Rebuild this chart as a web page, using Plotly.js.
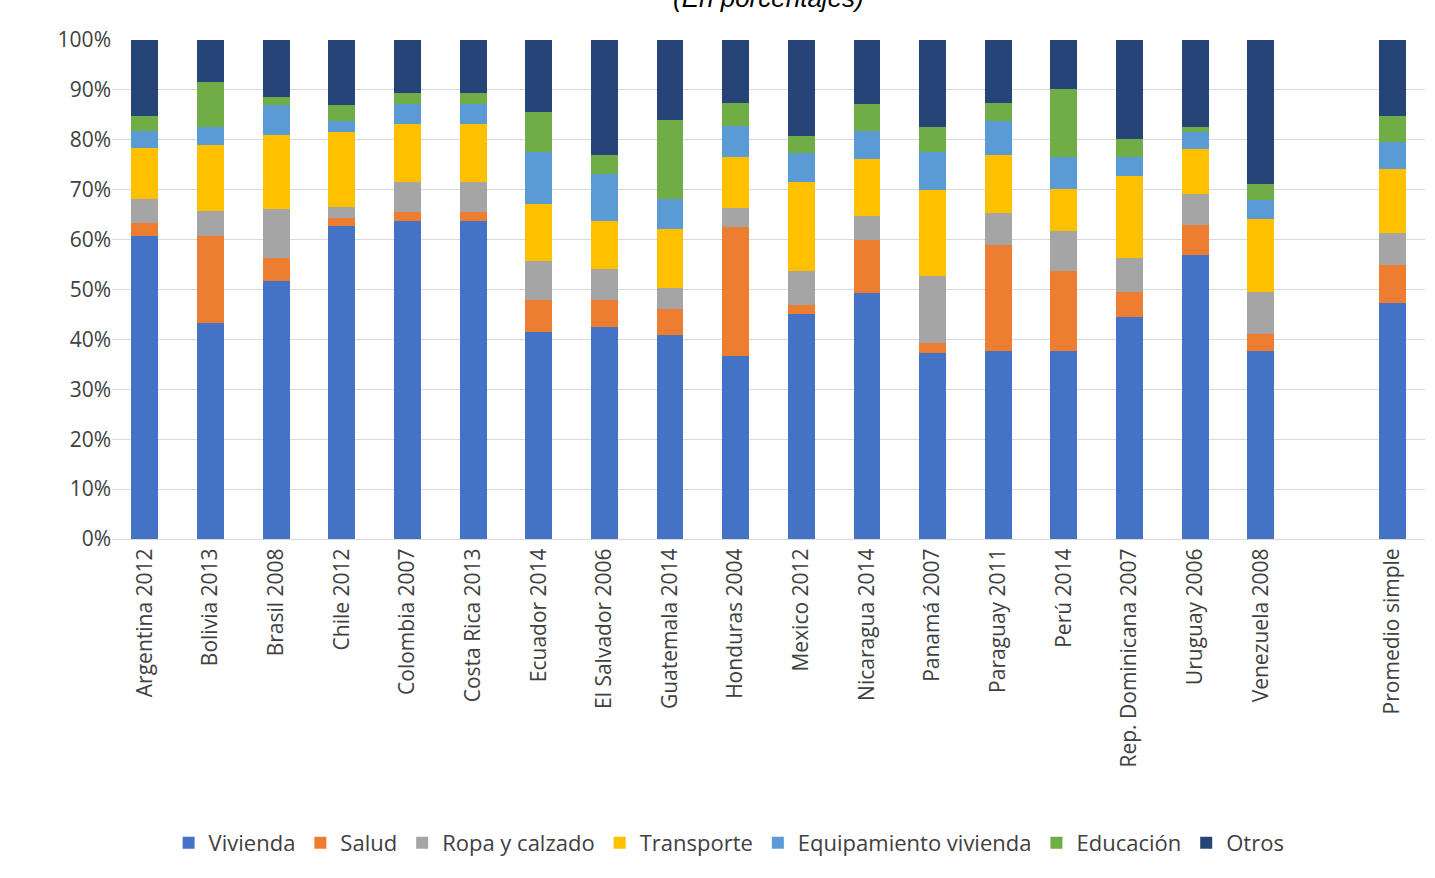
<!DOCTYPE html>
<html><head><meta charset="utf-8">
<script src="https://cdn.plot.ly/plotly-3.0.1.min.js"></script>
<style>body{margin:0;background:#fff}</style></head>
<body><div id="c" style="width:1435px;height:878px"></div>
<script>
const categories=["Argentina 2012","Bolivia 2013","Brasil 2008","Chile 2012","Colombia 2007","Costa Rica 2013","Ecuador 2014","El Salvador 2006","Guatemala 2014","Honduras 2004","Mexico 2012","Nicaragua 2014","Panamá 2007","Paraguay 2011","Perú 2014","Rep. Dominicana 2007","Uruguay 2006","Venezuela 2008"," ","Promedio simple"];
const vivienda=[60.7,43.3,51.7,62.7,63.7,63.7,41.5,42.5,40.9,36.7,45.1,49.3,37.3,37.7,37.7,44.5,56.9,37.7,null,47.3];
const salud=[2.6,17.4,4.6,1.6,1.8,1.8,6.4,5.4,5.2,25.8,1.8,10.6,2.0,21.2,16.0,5.0,6.0,3.4,null,7.6];
const ropa=[4.8,5.0,9.8,2.2,6.0,6.0,7.8,6.2,4.2,3.8,6.8,4.8,13.4,6.4,8.0,6.8,6.2,8.4,null,6.4];
const transporte=[10.3,13.3,14.9,15.1,11.7,11.7,11.4,9.6,11.8,10.3,17.8,11.5,17.2,11.7,8.4,16.4,9.1,14.6,null,12.8];
const equipamiento=[3.4,3.6,6.0,2.2,4.0,4.0,10.5,9.4,6.0,6.2,5.9,5.6,7.7,6.8,6.5,3.9,3.4,3.8,null,5.5];
const educacion=[3.0,9.0,1.6,3.2,2.2,2.2,8.0,3.9,15.9,4.6,3.4,5.4,5.0,3.6,13.6,3.6,1.0,3.2,null,5.2];
const otros=[15.2,8.4,11.4,13.0,10.6,10.6,14.4,23.0,16.0,12.6,19.2,12.8,17.4,12.6,9.8,19.8,17.4,28.9,null,15.2];
const series=[["Vivienda",vivienda,"#4472C4"],["Salud",salud,"#ED7D31"],["Ropa y calzado",ropa,"#A5A5A5"],["Transporte",transporte,"#FFC000"],["Equipamiento vivienda",equipamiento,"#5B9BD5"],["Educación",educacion,"#70AD47"],["Otros",otros,"#264478"]];
const traces=series.map(s=>({type:"bar",name:s[0],x:categories,y:s[1].map(v=>v==null?null:v/100),marker:{color:s[2]},hoverinfo:"y+name"}));
const font={family:"Open Sans, DejaVu Sans, sans-serif",size:21,color:"#404040"};
Plotly.newPlot("c",traces,{
 barmode:"stack",bargap:0.59,width:1435,height:878,
 margin:{l:112,r:10,t:40,b:339},
 paper_bgcolor:"#fff",plot_bgcolor:"#fff",font:font,
 annotations:[{text:"<i>(En porcentajes)</i>",font:{family:"Arial, Liberation Sans",size:26,color:"#000"},xref:"paper",yref:"paper",x:0.5,xanchor:"center",y:1.084,yanchor:"middle",showarrow:false}],
 xaxis:{type:"category",categoryarray:categories,tickangle:-90,tickfont:font,showline:true,linecolor:"#d9d9d9",ticks:""},
 yaxis:{range:[0,1],tickformat:".0%",dtick:0.1,gridcolor:"#d9d9d9",tickfont:font,zeroline:false,showline:false},
 legend:{orientation:"h",x:0.47,xanchor:"center",y:-0.609,yanchor:"middle",font:{family:font.family,size:22,color:"#404040"},traceorder:"normal",itemwidth:30}
},{displayModeBar:false});
</script></body></html>
